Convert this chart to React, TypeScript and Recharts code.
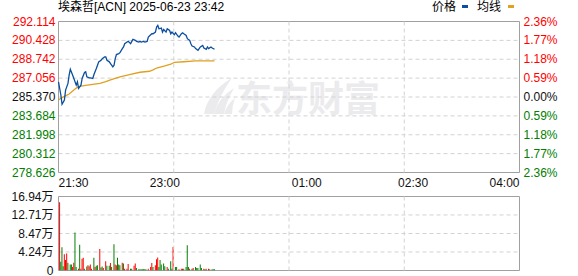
import React from "react";
import {
  ComposedChart,
  Line,
  Bar,
  Cell,
  XAxis,
  YAxis,
  CartesianGrid,
  ReferenceLine,
  ReferenceArea,
} from "recharts";

// ---------- data ----------
const TITLE = "埃森哲[ACN] 2025-06-23 23:42";
const PREV_CLOSE = 285.37;

const timeTicks = [0, 90, 210, 300, 390];
const timeLabels = ["21:30", "23:00", "01:00", "02:30", "04:00"];
const gridMinutes = [97.5, 195, 292.5];

const priceTicks = [278.626, 280.312, 281.998, 283.684, 285.37, 287.056, 288.742, 290.428, 292.114];
const pctTicks = [-2.36, -1.77, -1.18, -0.59, 0, 0.59, 1.18, 1.77, 2.36];
const volTicks = [0, 4.24, 8.47, 12.71, 16.94];

const priceMinutes = [
  0, 2, 3, 5, 6, 8, 9, 10, 12, 13,
  15, 16, 17, 19, 20, 22, 23, 24, 26, 27,
  29, 30, 32, 33, 34, 36, 37, 39, 40, 41,
  43, 44, 46, 47, 48, 49, 51, 52, 54, 55,
  56, 58, 59, 61, 62, 63, 65, 66, 68, 69,
  70, 72, 73, 75, 76, 78, 79, 80, 82, 83,
  84, 85, 87, 88, 89, 91, 92, 94, 95, 96,
  98, 99, 101, 102, 104, 105, 106, 108, 109, 111,
  112, 113, 115, 116, 118, 119, 120, 122, 123, 125,
  126, 127, 129, 130, 132,
];
const priceValues = [
  286.73, 285.55, 284.72, 285.1, 285.99, 286.58, 287.32, 287.85, 287.32, 287.03,
  286.43, 286.73, 286.14, 286.43, 287.03, 287.56, 287.62, 287.17, 287.08, 287.08,
  287.03, 287.38, 287.91, 288.21, 288.51, 288.65, 288.8, 288.95, 288.95, 288.65,
  288.51, 288.36, 288.06, 288.21, 288.8, 289.16, 289.25, 289.33, 289.69, 289.84,
  290.13, 290.28, 290.34, 290.13, 290.34, 290.52, 290.43, 290.34, 290.28, 290.34,
  290.28, 290.34, 290.28, 290.34, 290.72, 290.93, 291.02, 291.02, 291.17, 291.61,
  291.76, 291.46, 291.52, 291.17, 291.4, 291.17, 291.46, 291.31, 291.02, 291.17,
  290.93, 291.11, 290.81, 290.72, 291.02, 291.11, 291.02, 290.87, 290.58, 290.43,
  290.13, 289.92, 289.84, 289.69, 289.54, 289.69, 289.84, 289.98, 289.75, 289.63,
  289.84, 289.69, 289.84, 289.75, 289.63,
];

const avgMinutes = [0, 2, 5, 9, 13, 15, 18, 23, 29, 35, 40, 44, 52, 60, 69, 77, 80, 83, 90, 95, 98, 106, 116, 132];
const avgValues = [
  285.1, 285.25, 285.43, 285.64, 286.0, 286.17, 286.32, 286.4, 286.5, 286.59, 286.74, 286.9,
  287.16, 287.36, 287.58, 287.67, 287.8, 287.96, 288.14, 288.3, 288.47, 288.52, 288.59, 288.59,
];

// volume in 万, up: 1 = red, 0 = green
const volMinutes = [
  1, 2, 3, 4, 5, 6, 7, 8, 10, 11,
  12, 13, 14, 15, 17, 18, 19, 20, 21, 22,
  24, 25, 26, 27, 28, 30, 31, 32, 33, 35,
  36, 37, 38, 40, 41, 43, 44, 45, 47, 48,
  49, 50, 51, 52, 54, 55, 56, 58, 59, 61,
  62, 64, 65, 66, 68, 69, 70, 71, 72, 73,
  74, 76, 78, 79, 80, 82, 83, 84, 85, 86,
  87, 89, 90, 92, 93, 95, 96, 97, 99, 100,
  102, 104, 105, 106, 108, 109, 110, 111, 113, 114,
  116, 117, 118, 120, 121, 123, 124, 125, 127, 128,
  130, 131, 132,
];
const volValues = [
  15.6, 2.0, 5.3, 1.0, 3.7, 2.4, 3.9, 1.8, 1.4, 1.4,
  0.8, 1.8, 8.7, 0.8, 0.4, 5.9, 0.4, 2.7, 2.9, 0.4,
  0.9, 1.2, 1.0, 1.4, 0.4, 2.9, 0.8, 1.1, 1.2, 4.9,
  0.7, 0.9, 0.6, 2.1, 1.1, 1.1, 1.7, 0.8, 6.0, 1.4,
  1.2, 2.9, 1.4, 1.2, 1.8, 1.6, 0.4, 0.4, 1.5, 0.4,
  0.4, 1.1, 1.6, 0.6, 0.3, 0.3, 0.3, 0.3, 0.3, 0.3,
  0.3, 0.4, 0.8, 1.7, 0.8, 1.2, 2.6, 3.0, 0.8, 2.4,
  1.4, 1.6, 1.0, 0.8, 0.4, 2.1, 0.4, 5.4, 0.8, 0.8,
  0.3, 0.4, 0.4, 0.4, 0.8, 5.8, 0.8, 0.4, 0.4, 0.6,
  0.8, 0.6, 0.6, 1.4, 0.6, 0.4, 0.3, 0.4, 0.4, 0.3,
  0.3, 0.3, 0.3,
];
const volUp = [
  1, 0, 0, 0, 1, 1, 1, 0, 0, 0,
  1, 1, 0, 0, 1, 0, 1, 1, 1, 0,
  1, 0, 1, 1, 1, 0, 1, 0, 0, 1,
  0, 0, 1, 1, 0, 0, 1, 0, 0, 1,
  1, 0, 0, 0, 1, 0, 1, 1, 1, 0,
  0, 1, 1, 0, 0, 0, 0, 0, 0, 0,
  0, 1, 1, 1, 0, 1, 1, 1, 0, 0,
  0, 0, 0, 1, 0, 0, 0, 1, 0, 0,
  1, 1, 1, 0, 0, 0, 0, 1, 0, 1,
  0, 0, 0, 0, 0, 1, 0, 1, 1, 0,
  0, 0, 0,
];

// ---------- derived tables ----------
const lineMap = new Map<number, { t: number; price?: number; avg?: number }>();
priceMinutes.forEach((t, i) => {
  const r = lineMap.get(t) || { t };
  r.price = priceValues[i];
  lineMap.set(t, r);
});
avgMinutes.forEach((t, i) => {
  const r = lineMap.get(t) || { t };
  r.avg = avgValues[i];
  lineMap.set(t, r);
});
const lineData = Array.from(lineMap.values()).sort((a, b) => a.t - b.t);
const volData = volMinutes.map((t, i) => ({ t, v: volValues[i], up: volUp[i] }));

// ---------- styles ----------
const FONT = "'Liberation Sans', Arial, 'Noto Sans CJK SC', sans-serif";
const RED = "#ff0000";
const GREEN = "#008000";
const DARK = "#111111";
const GRID = "#d2d2d2";
const BORDER = "#a0a0a0";
const BLUE = "#0b4f9f";
const ORANGE = "#e0a020";
const WATERMARK = "#ebebee";

const PriceTick = (props: any) => {
  const { x, y, payload } = props;
  const v = payload.value;
  const fill = v > PREV_CLOSE + 0.001 ? RED : v < PREV_CLOSE - 0.001 ? GREEN : DARK;
  return (
    <text x={x} y={y} dy={4} textAnchor="end" fill={fill} fontSize={12} fontFamily={FONT}>
      {v.toFixed(3)}
    </text>
  );
};

const PctTick = (props: any) => {
  const { x, y, payload } = props;
  const v = payload.value;
  const fill = v > 0 ? RED : v < 0 ? GREEN : DARK;
  return (
    <text x={x} y={y} dy={4} textAnchor="start" fill={fill} fontSize={12} fontFamily={FONT}>
      {Math.abs(v).toFixed(2) + "%"}
    </text>
  );
};

const TimeTick = (props: any) => {
  const { x, y, payload, index } = props;
  const anchor = index === 0 ? "start" : index === timeTicks.length - 1 ? "end" : "middle";
  return (
    <text x={x} y={y} dy={14} textAnchor={anchor} fill={DARK} fontSize={12} fontFamily={FONT}>
      {timeLabels[timeTicks.indexOf(payload.value)]}
    </text>
  );
};

const VolTick = (props: any) => {
  const { x, y, payload } = props;
  const v = payload.value;
  return (
    <text x={x} y={y} dy={4} textAnchor="end" fill={DARK} fontSize={12} fontFamily={FONT}>
      {v === 0 ? "0" : v.toFixed(2) + "万"}
    </text>
  );
};

export default function App() {
  return (
    <div style={{ position: "absolute", left: 0, top: 0, width: 578, height: 276, background: "#fff", fontFamily: FONT }}>
      {/* watermark logo + text */}
      <svg style={{ position: "absolute", left: 198, top: 74 }} width={38} height={42}>
        <path d="M6 40 Q10 18 34 4 Q22 20 16 40 Z" fill={WATERMARK} />
        <path d="M16 40 Q20 24 36 14 Q28 28 26 40 Z" fill={WATERMARK} />
        <path d="M26 40 Q29 30 37 24 Q34 32 34 40 Z" fill={WATERMARK} />
      </svg>
      <div
        style={{
          position: "absolute",
          left: 236,
          top: 72,
          fontSize: 36,
          fontWeight: 700,
          color: WATERMARK,
          fontFamily: "'Noto Sans CJK SC', sans-serif",
          lineHeight: "48px",
          whiteSpace: "nowrap",
        }}
      >
        东方财富
      </div>
      {/* title */}
      <div style={{ position: "absolute", left: 58, top: 0, fontSize: 12, lineHeight: "15px", color: "#000", whiteSpace: "nowrap" }}>
        {TITLE}
      </div>
      {/* legend */}
      <div style={{ position: "absolute", left: 432, top: 0, fontSize: 12, lineHeight: "15px", color: "#000", whiteSpace: "nowrap" }}>
        价格
      </div>
      <div style={{ position: "absolute", left: 462, top: 5, width: 6, height: 3, background: BLUE }} />
      <div style={{ position: "absolute", left: 477, top: 0, fontSize: 12, lineHeight: "15px", color: "#000", whiteSpace: "nowrap" }}>
        均线
      </div>
      <div style={{ position: "absolute", left: 508, top: 5, width: 6, height: 3, background: ORANGE }} />

      {/* price chart */}
      <div style={{ position: "absolute", left: 0, top: 0 }}>
        <ComposedChart width={578} height={190} data={lineData} margin={{ top: 21.5, right: 0, bottom: 0, left: 0 }}>
          <CartesianGrid yAxisId="left" vertical={false} stroke={GRID} strokeDasharray="4 3" />
          <XAxis
            dataKey="t"
            type="number"
            domain={[0, 390]}
            ticks={timeTicks}
            tick={<TimeTick />}
            tickSize={0}
            tickMargin={0}
            axisLine={false}
            tickLine={false}
            height={17.5}
            interval={0}
          />
          <YAxis
            yAxisId="left"
            orientation="left"
            domain={[priceTicks[0], priceTicks[priceTicks.length - 1]]}
            ticks={priceTicks}
            tick={<PriceTick />}
            width={58.5}
            tickSize={0}
            tickMargin={3}
            axisLine={false}
            tickLine={false}
            interval={0}
            allowDataOverflow
          />
          <YAxis
            yAxisId="right"
            orientation="right"
            domain={[pctTicks[0], pctTicks[pctTicks.length - 1]]}
            ticks={pctTicks}
            tick={<PctTick />}
            width={58.5}
            tickSize={0}
            tickMargin={4}
            axisLine={false}
            tickLine={false}
            interval={0}
            allowDataOverflow
          />
          {gridMinutes.map((m) => (
            <ReferenceLine key={m} x={m} yAxisId="left" stroke={GRID} strokeDasharray="4 3" />
          ))}
          <ReferenceArea
            yAxisId="left"
            x1={0}
            x2={390}
            y1={priceTicks[0]}
            y2={priceTicks[priceTicks.length - 1]}
            fill="none"
            fillOpacity={0}
            stroke={BORDER}
            strokeWidth={1}
          />
          <Line
            yAxisId="left"
            dataKey="avg"
            type="linear"
            stroke={ORANGE}
            strokeWidth={1.3}
            dot={false}
            connectNulls
            isAnimationActive={false}
          />
          <Line
            yAxisId="left"
            dataKey="price"
            type="linear"
            stroke={BLUE}
            strokeWidth={1.3}
            dot={false}
            connectNulls
            isAnimationActive={false}
          />
        </ComposedChart>
      </div>

      {/* volume chart */}
      <div style={{ position: "absolute", left: 0, top: 186 }}>
        <ComposedChart width={578} height={90} data={volData} margin={{ top: 10.5, right: 58.5, bottom: 5.5, left: 0 }}>
          <CartesianGrid vertical={false} stroke={GRID} strokeDasharray="4 3" />
          <XAxis dataKey="t" type="number" domain={[0, 390]} hide />
          <YAxis
            domain={[0, 16.94]}
            ticks={volTicks}
            tick={<VolTick />}
            width={58.5}
            tickSize={0}
            tickMargin={5}
            axisLine={false}
            tickLine={false}
            interval={0}
            allowDataOverflow
          />
          {gridMinutes.map((m) => (
            <ReferenceLine key={m} x={m} stroke={GRID} strokeDasharray="4 3" />
          ))}
          <ReferenceArea x1={0} x2={390} y1={0} y2={16.94} fill="none" fillOpacity={0} stroke={BORDER} strokeWidth={1} />
          <Bar dataKey="v" barSize={1} isAnimationActive={false}>
            {volData.map((d, i) => (
              <Cell key={i} fill={d.up ? RED : GREEN} />
            ))}
          </Bar>
        </ComposedChart>
      </div>
    </div>
  );
}
